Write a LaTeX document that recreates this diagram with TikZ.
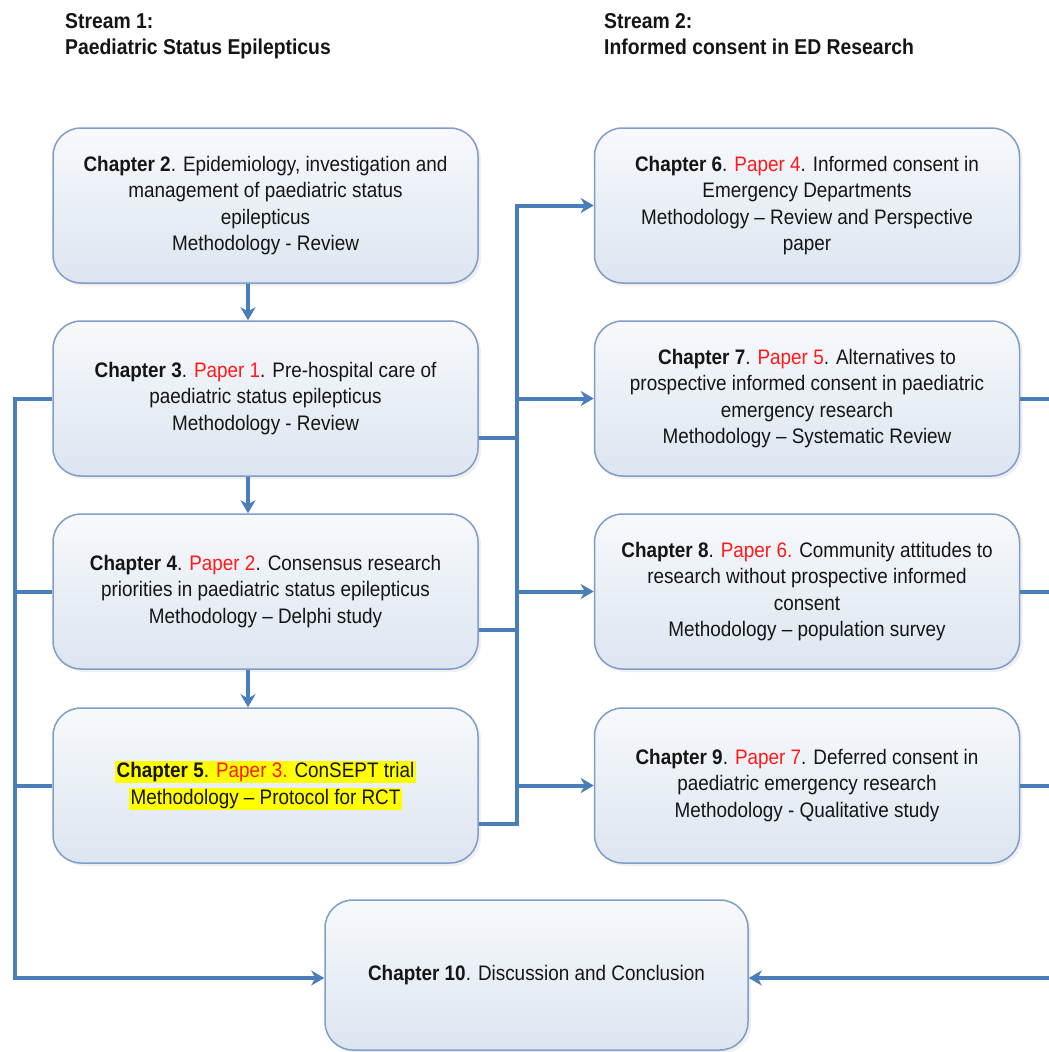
\documentclass[tikz,border=0pt]{standalone}
\usepackage{fontspec}
\setmainfont{Liberation Sans}[FakeStretch=0.9]
\usetikzlibrary{arrows.meta,shadows,calc}

\definecolor{lineblue}{HTML}{4A7EBB}
\definecolor{boxedge}{HTML}{7F9DC9}
\definecolor{boxtop}{HTML}{F7F9FC}
\definecolor{boxbot}{HTML}{DCE5F0}
\definecolor{paperred}{HTML}{FF1A1A}
\definecolor{marker}{HTML}{FFFF00}
\definecolor{inktext}{HTML}{151515}

\newcommand{\paper}[1]{\textcolor{paperred}{#1}}
\newcommand{\hl}[1]{{\setlength{\fboxsep}{1.2pt}\colorbox{marker}{#1}}}

\begin{document}
\begin{tikzpicture}[x=1pt,y=-1pt,
  chapter/.style={draw=boxedge, line width=1.5pt, rounded corners=28pt,
    top color=boxtop, bottom color=boxbot, text=inktext,
    minimum width=425pt, minimum height=155pt, align=center,
    font=\fontsize{21}{26.5}\selectfont,
    drop shadow={opacity=0.12, shadow xshift=3pt, shadow yshift=-3pt}},
  header/.style={anchor=base west, inner sep=0pt, text=inktext,
    font=\fontsize{21.5}{26}\selectfont\bfseries},
  flow/.style={draw=lineblue, line width=4pt},
  tip/.style={-{Stealth[length=13pt,width=15pt,inset=4pt]}}
]
\useasboundingbox (0,0) rectangle (1049,1052);
\clip (0,0) rectangle (1049,1052);

% stream headings
\node[header] (s1a) at (65,28) {Stream 1:};
\node[header] (s1b) at (65,54) {Paediatric Status Epilepticus};
\node[header] (s2a) at (604,28) {Stream 2:};
\node[header] (s2b) at (604,54) {Informed consent in ED Research};

% stream 1 chapters
\node[chapter] (ch2) at (265.5,205.5)
  {\textbf{Chapter 2}. Epidemiology, investigation and\\management of paediatric status\\epilepticus\\Methodology - Review};
\node[chapter] (ch3) at (265.5,398.5)
  {\textbf{Chapter 3}. \paper{Paper 1}. Pre-hospital care of\\paediatric status epilepticus\\Methodology - Review};
\node[chapter] (ch4) at (265.5,591.5)
  {\textbf{Chapter 4}. \paper{Paper 2}. Consensus research\\priorities in paediatric status epilepticus\\Methodology – Delphi study};
\node[chapter] (ch5) at (265.5,785.5)
  {\hl{\textbf{Chapter 5}. \paper{Paper 3.} ConSEPT trial}\\\hl{Methodology – Protocol for RCT}};

% stream 2 chapters
\node[chapter] (ch6) at (807,205.5)
  {\textbf{Chapter 6}. \paper{Paper 4}. Informed consent in\\Emergency Departments\\Methodology – Review and Perspective\\paper};
\node[chapter] (ch7) at (807,398.5)
  {\textbf{Chapter 7}. \paper{Paper 5}. Alternatives to\\prospective informed consent in paediatric\\emergency research\\Methodology – Systematic Review};
\node[chapter] (ch8) at (807,591.5)
  {\textbf{Chapter 8}. \paper{Paper 6.} Community attitudes to\\research without prospective informed\\consent\\Methodology – population survey};
\node[chapter] (ch9) at (807,785.5)
  {\textbf{Chapter 9}. \paper{Paper 7}. Deferred consent in\\paediatric emergency research\\Methodology - Qualitative study};

% conclusion
\node[chapter, minimum width=423pt, minimum height=150pt] (ch10) at (536.5,975)
  {\textbf{Chapter 10}. Discussion and Conclusion};

% bus lines
\coordinate (dx) at (248,0);
\coordinate (lb) at (15,0);
\coordinate (rb) at (517,0);
\coordinate (fb) at (1065,0);
\coordinate (in10l) at ($(ch10.west)+(0,3)$);
\coordinate (in10r) at ($(ch10.east)+(0,3)$);

% stream 1 sequence
\draw[flow,tip] (ch2.south -| dx) -- (ch3.north -| dx);
\draw[flow,tip] (ch3.south -| dx) -- (ch4.north -| dx);
\draw[flow,tip] (ch4.south -| dx) -- (ch5.north -| dx);

% left bus into the conclusion
\draw[flow,tip] (ch3.west) -- (ch3.west -| lb) -- (lb |- in10l) -- (in10l);
\draw[flow] (ch4.west) -- (ch4.west -| lb);
\draw[flow] (ch5.west) -- (ch5.west -| lb);

% middle bus feeding stream 2
\coordinate (o3) at ($(ch3.east)+(0,39)$);
\coordinate (o4) at ($(ch4.east)+(0,38)$);
\coordinate (o5) at ($(ch5.east)+(0,38)$);
\draw[flow,tip] (o5) -- (o5 -| rb) -- (rb |- ch6.west) -- (ch6.west);
\draw[flow] (o3) -- (o3 -| rb);
\draw[flow] (o4) -- (o4 -| rb);
\draw[flow,tip] (rb |- ch7.west) -- (ch7.west);
\draw[flow,tip] (rb |- ch8.west) -- (ch8.west);
\draw[flow,tip] (rb |- ch9.west) -- (ch9.west);

% right bus into the conclusion
\draw[flow,tip] (ch7.east) -- (ch7.east -| fb) -- (fb |- in10r) -- (in10r);
\draw[flow] (ch8.east) -- (ch8.east -| fb);
\draw[flow] (ch9.east) -- (ch9.east -| fb);
\end{tikzpicture}
\end{document}
